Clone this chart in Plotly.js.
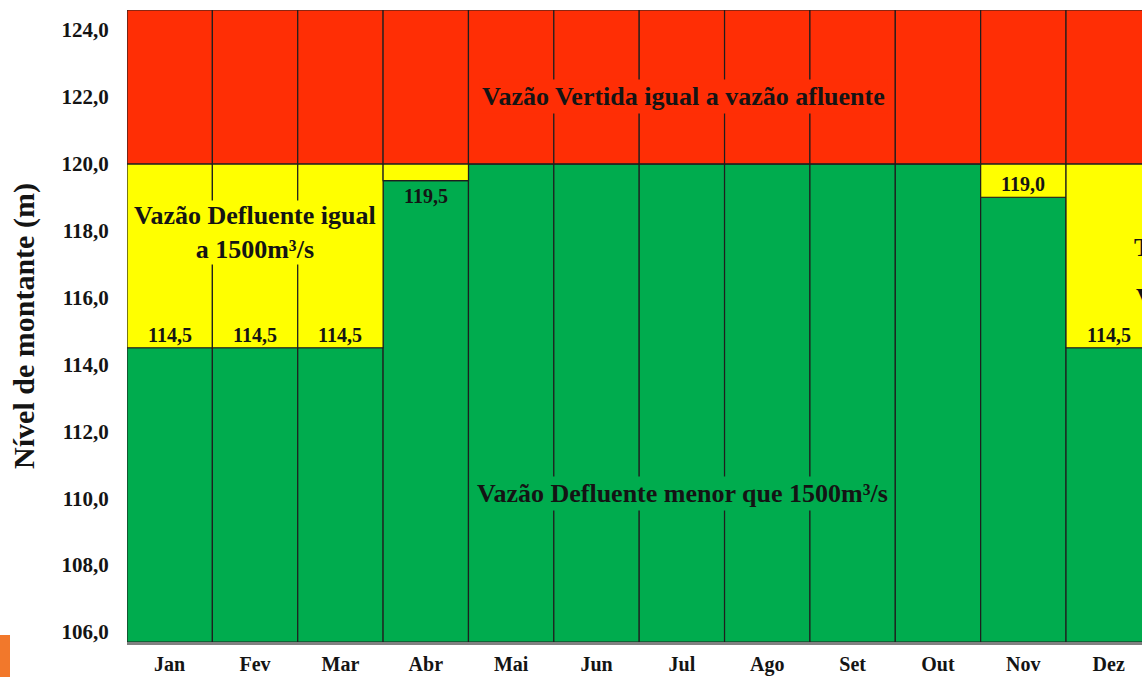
<!DOCTYPE html>
<html>
<head>
<meta charset="utf-8">
<script src="https://cdn.plot.ly/plotly-3.0.1.min.js"></script>
<style>
  html, body { margin: 0; padding: 0; background: #ffffff; overflow: hidden; }
  #chart { width: 1142px; height: 677px; }
</style>
</head>
<body>
<div id="chart"></div>
<script>
// ---- data ----
const months = ['Jan','Fev','Mar','Abr','Mai','Jun','Jul','Ago','Set','Out','Nov','Dez'];
// upper limit of the green zone (flow below 1500 m³/s), metres
const greenTop = [114.5, 114.5, 114.5, 119.5, 120.0, 120.0, 120.0, 120.0, 120.0, 120.0, 119.0, 114.5];
// level above which spilled flow equals inflow (red zone), metres
const spillLevel = [120.0, 120.0, 120.0, 120.0, 120.0, 120.0, 120.0, 120.0, 120.0, 120.0, 120.0, 120.0];
const zoneBottom = 105.7;
const zoneTop = 124.6;
const yTicks = [106, 108, 110, 112, 114, 116, 118, 120, 122, 124];
const zoneLabels = {
  red: 'Vazão Vertida igual a vazão afluente',
  yellow: 'Vazão Defluente igual<br>a 1500m³/s',
  green: 'Vazão Defluente menor que 1500m³/s'
};

// ---- style ----
const RED = '#FF2E05', YELLOW = '#FFFF00', GREEN = '#00AC4E';
const INK = '#141414';
const SERIF = '"Liberation Serif", "Times New Roman", serif';
const outline = { color: '#1e1e1e', width: 1.2 };

const green = {
  type: 'bar', x: months,
  base: months.map(() => zoneBottom),
  y: greenTop.map(v => v - zoneBottom),
  marker: { color: GREEN, line: outline }, width: 1, hoverinfo: 'skip'
};
const yellow = {
  type: 'bar', x: months,
  base: greenTop,
  y: greenTop.map((v, i) => spillLevel[i] - v),
  marker: { color: YELLOW, line: outline }, width: 1, hoverinfo: 'skip'
};
const red = {
  type: 'bar', x: months,
  base: spillLevel,
  y: spillLevel.map(v => zoneTop - v),
  marker: { color: RED, line: outline }, width: 1, hoverinfo: 'skip'
};

const annotations = [];
greenTop.forEach((v, i) => {
  if (v < spillLevel[i]) {
    const below = (spillLevel[i] - v) < 0.8;
    annotations.push({
      x: months[i], y: v, xref: 'x', yref: 'y',
      text: v.toFixed(1).replace('.', ','),
      showarrow: false,
      yanchor: below ? 'top' : 'bottom',
      yshift: below ? -2 : 0,
      font: { family: SERIF, size: 20, color: INK, weight: 'bold' }
    });
  }
});
annotations.push({
  xref: 'paper', x: 0.548, yref: 'y', y: 122.0,
  text: zoneLabels.red, showarrow: false, bgcolor: RED, borderpad: 2,
  font: { family: SERIF, size: 26, color: INK, weight: 'bold' }
});
annotations.push({
  xref: 'paper', x: 0.547, yref: 'y', y: 110.15,
  text: zoneLabels.green, showarrow: false, bgcolor: GREEN, borderpad: 2,
  font: { family: SERIF, size: 26, color: INK, weight: 'bold' }
});
annotations.push({
  xref: 'x', x: months[1], yref: 'y', y: 117.95,
  text: zoneLabels.yellow, showarrow: false, bgcolor: YELLOW, borderpad: 0,
  font: { family: SERIF, size: 26, color: INK, weight: 'bold' }
});
// partially visible text at the cut right edge (as in the reference)
annotations.push({
  xref: 'paper', x: 0.9905, xanchor: 'left', yref: 'y', y: 117.5,
  text: 'T', showarrow: false,
  font: { family: SERIF, size: 26, color: INK, weight: 'bold' }
});
annotations.push({
  xref: 'paper', x: 0.9925, xanchor: 'left', yref: 'y', y: 116.0,
  text: 'V', showarrow: false,
  font: { family: SERIF, size: 26, color: INK, weight: 'bold' }
});

const layout = {
  width: 1142, height: 677,
  margin: { l: 127, r: 0, t: 10, b: 35, pad: 0 },
  paper_bgcolor: '#ffffff', plot_bgcolor: '#ffffff',
  barmode: 'overlay', bargap: 0,
  showlegend: false,
  separators: ',.',
  xaxis: {
    type: 'category',
    range: [-0.5, 11.39],
    showgrid: false, zeroline: false,
    showline: true, linecolor: '#808080', linewidth: 3,
    ticks: 'outside', ticklen: 2, tickcolor: 'rgba(0,0,0,0)',
    tickfont: { family: SERIF, size: 20, color: INK, weight: 'bold' },
    fixedrange: true
  },
  yaxis: {
    range: [zoneBottom, zoneTop],
    tickvals: yTicks,
    tickformat: '.1f',
    showgrid: false, zeroline: false, showline: false,
    ticks: 'outside', ticklen: 13, tickcolor: 'rgba(0,0,0,0)',
    tickfont: { family: SERIF, size: 21, color: INK, weight: 'bold' },
    title: {
      text: 'Nível de montante (m)', standoff: 18,
      font: { family: SERIF, size: 30, color: INK, weight: 'bold' }
    },
    automargin: false,
    fixedrange: true
  },
  annotations: annotations,
  shapes: [{
    type: 'rect', xref: 'paper', yref: 'paper',
    x0: -127 / 1015, x1: (10 - 127) / 1015, y0: -35 / 632, y1: 7 / 632,
    fillcolor: '#F2782B', line: { width: 0 }, layer: 'above'
  }]
};

Plotly.newPlot('chart', [green, yellow, red], layout, { staticPlot: true, displayModeBar: false });
</script>
</body>
</html>
